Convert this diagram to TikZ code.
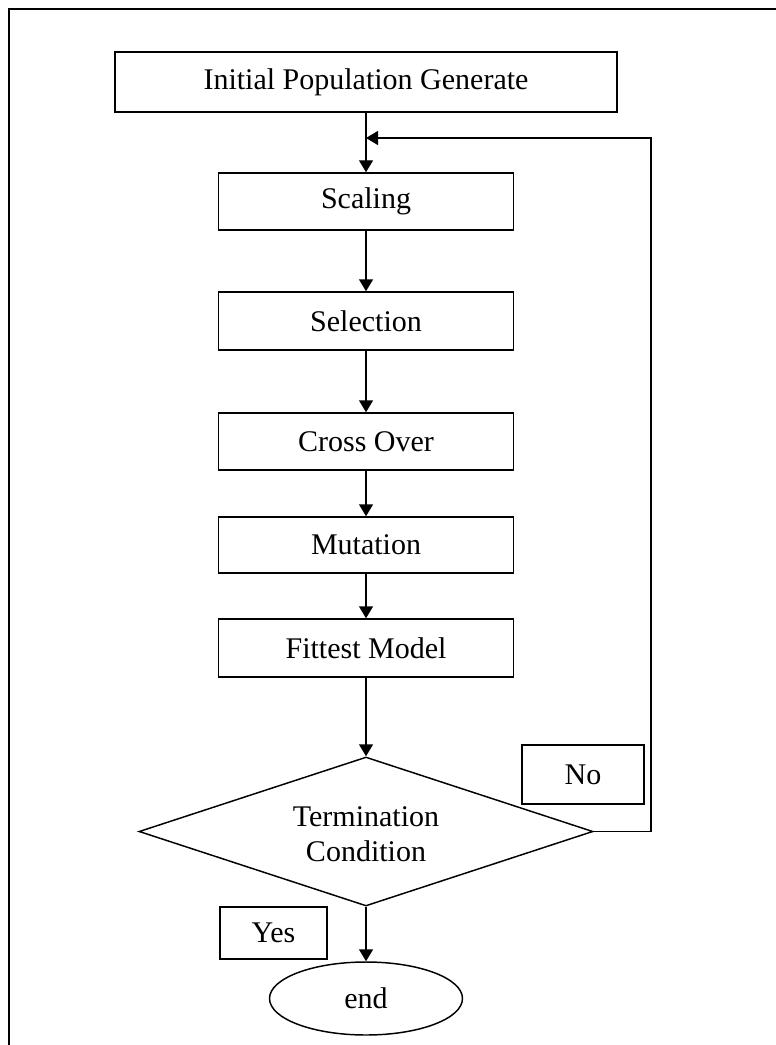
\documentclass[tikz,border=0pt]{standalone}
\usepackage{fontspec}
\setmainfont{Liberation Serif}
\usetikzlibrary{arrows.meta,shapes.geometric}
\begin{document}
\begin{tikzpicture}[x=0.75pt,y=-0.75pt,
  every node/.style={font=\fontsize{22.5}{26.5}\selectfont, inner sep=0pt, line width=1.1pt},
  procbox/.style={draw, rectangle, minimum width=295*0.75pt, minimum height=57*0.75pt},
  labbox/.style={draw, rectangle},
  conn/.style={line width=1.1pt, -{Triangle[length=9pt,width=10.5pt]}},
  plainline/.style={line width=1.1pt}]
\useasboundingbox (0,0) rectangle (775,1045);
% frame
\draw[line width=2pt] (9,1047) -- (9,9) -- (777,9);
% nodes
\node[draw, rectangle, minimum width=502*0.75pt, minimum height=60*0.75pt] (init) at (366,82) {Initial Population Generate};
\node[procbox] (scal) at (366,201.5) {Scaling};
\node[procbox, minimum height=58*0.75pt] (sel) at (366,321) {Selection};
\node[procbox] (cross) at (366,441.5) {Cross Over};
\node[procbox, minimum height=56*0.75pt] (mut) at (366,545) {Mutation};
\node[procbox, minimum height=58*0.75pt] (fit) at (366,648) {Fittest Model};
\node[draw, diamond, minimum width=454*0.75pt, minimum height=149*0.75pt] (dia) at (366,831.5) {};
\node[align=center] (diatext) at (366,834) {Termination\\Condition};
\node[labbox, minimum width=122*0.75pt, minimum height=59*0.75pt] (no) at (583,774.5) {No};
\node[labbox, minimum width=107*0.75pt, minimum height=52*0.75pt] (yes) at (273.5,933) {Yes};
\node[draw, ellipse, minimum width=193*0.75pt, minimum height=73*0.75pt] (end) at (366,998.5) {end};
\coordinate (fb) at (366,138);
\coordinate (fbr) at (651,138);
% connectors
\draw[plainline] (init.south) -- (fb);
\draw[conn] (fb) -- (scal.north);
\draw[conn] (scal) -- (sel);
\draw[conn] (sel) -- (cross);
\draw[conn] (cross) -- (mut);
\draw[conn] (mut) -- (fit);
\draw[conn] (fit) -- (dia.north);
\draw[conn] (dia.east) -| (fbr) -- (fb);
\draw[conn] (dia.south) -- (end.north);
\end{tikzpicture}
\end{document}
